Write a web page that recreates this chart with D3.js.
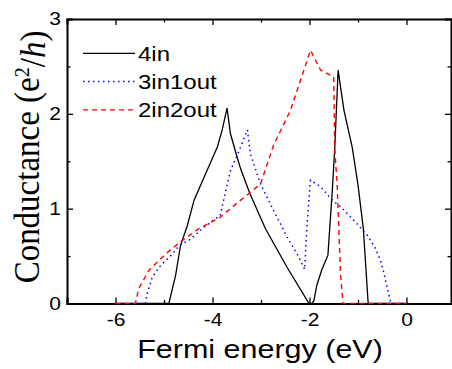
<!DOCTYPE html>
<html lang="en">
<head>
    <meta charset="UTF-8">
    <style>
        body { margin: 0; background: #fff; }
        .axis path, .axis line { stroke: #000; }
        .curve { fill: none; }
    </style>
    <title>Conductance</title>
</head>
<body>
<div id="chart"></div>
<script src="https://cdn.jsdelivr.net/npm/d3@7"></script>
<script>
    var width = 452,
        height = 369,
        plotLeft = 67, plotTop = 19, plotRight = 455, plotBottom = 303.5;

    // 4in
    var energy4in = [-6, -4.90, -4.76, -4.66, -4.52, -4.38, -4.14, -3.90, -3.80, -3.70, -3.63, -3.49, -3.42, -3.23, -2.91, -2.46,
        -2.01, -1.95, -1.91, -1.85, -1.75, -1.62, -1.53, -1.48, -1.41, -1.29, -1.12, -1.00, -0.89, -0.79, 0];
    var cond4in = [0, 0, 0.30, 0.61, 0.82, 1.09, 1.37, 1.65, 1.83, 2.06, 1.79, 1.54, 1.42, 1.16, 0.79, 0.38,
        0, 0, 0.03, 0.19, 0.35, 0.51, 1.19, 1.63, 2.46, 2.04, 1.65, 1.25, 0.79, 0, 0];

    // 3in1out
    var energy3in1out = [-6, -5.38, -5.35, -5.24, -5.07, -4.83, -4.69, -4.45, -4.21, -3.84, -3.77, -3.63, -3.42, -3.28, -3.22,
        -3.01, -2.74, -2.46, -2.22, -2.10, -2.05, -1.98, -1.77, -1.53, -1.36, -1.26, -1.02, -0.81, -0.65, -0.54, -0.47, -0.40, -0.32, 0];
    var cond3in1out = [0, 0, 0.10, 0.28, 0.40, 0.52, 0.61, 0.68, 0.79, 0.93, 1.09, 1.40, 1.65, 1.83, 1.58,
        1.26, 0.98, 0.70, 0.49, 0.36, 0.84, 1.30, 1.23, 1.09, 1.02, 0.97, 0.84, 0.72, 0.59, 0.46, 0.33, 0.17, 0, 0];

    // 2in2out
    var energy2in2out = [-6, -5.59, -5.52, -5.31, -5.11, -4.90, -4.66, -4.28, -3.84, -3.42, -3.25, -3.01, -2.74, -2.39, -1.98,
        -1.77, -1.50, -1.48, -1.43, -1.36, -1.31, 0];
    var cond2in2out = [0, 0, 0.16, 0.35, 0.45, 0.55, 0.65, 0.79, 0.91, 1.09, 1.16, 1.26, 1.67, 2.04, 2.67,
        2.46, 2.39, 1.63, 1.26, 0.31, 0, 0];

    var seriesNames = ["4in", "3in1out", "2in2out"];
    var xTicks = [-6, -4, -2, 0];
    var yTicks = [0, 1, 2, 3];

    var styles = {
        "4in": {color: "#000", dash: null, width: 1.3},
        "3in1out": {color: "#0000ff", dash: "1.5,3.5", width: 1.5},
        "2in2out": {color: "#ff0000", dash: "5,4", width: 1.4}
    };

    var series = [
        {name: "4in", e: energy4in, g: cond4in},
        {name: "3in1out", e: energy3in1out, g: cond3in1out},
        {name: "2in2out", e: energy2in2out, g: cond2in2out}
    ];

    var svg = d3.select("#chart").append("svg")
        .attr("width", width)
        .attr("height", height);

    var x = d3.scaleLinear().domain([-7, 1]).range([plotLeft, plotRight]),
        y = d3.scaleLinear().domain([0, 3]).range([plotBottom, plotTop]);

    var stretch = "scale(1.2,1)";
    var plain = function(d) { return String(d); };

    // axes, ticks inside
    var minorXTicks = [-7, -5, -3, -1, 1];
    var minorYTicks = [0.5, 1.5, 2.5];

    var gx = svg.append("g").attr("class", "axis")
        .attr("transform", "translate(0," + plotBottom + ")")
        .call(d3.axisBottom(x).tickValues(xTicks).tickSize(-6).tickPadding(10).tickFormat(plain));
    gx.append("g").call(d3.axisBottom(x).tickValues(minorXTicks).tickSize(-3.5).tickFormat(""))
        .select(".domain").remove();

    var gxTop = svg.append("g").attr("class", "axis")
        .attr("transform", "translate(0," + plotTop + ")")
        .call(d3.axisTop(x).tickValues(xTicks).tickSize(-6).tickFormat(""));
    gxTop.append("g").call(d3.axisTop(x).tickValues(minorXTicks).tickSize(-3.5).tickFormat(""))
        .select(".domain").remove();

    var gy = svg.append("g").attr("class", "axis")
        .attr("transform", "translate(" + plotLeft + ",0)")
        .call(d3.axisLeft(y).tickValues(yTicks).tickSize(-6).tickPadding(4).tickFormat(plain));
    gy.append("g").call(d3.axisLeft(y).tickValues(minorYTicks).tickSize(-3.5).tickFormat(""))
        .select(".domain").remove();

    var gyRight = svg.append("g").attr("class", "axis")
        .attr("transform", "translate(" + (width - 1) + ",0)")
        .call(d3.axisRight(y).tickValues(yTicks).tickSize(-6).tickFormat(""));
    gyRight.append("g").call(d3.axisRight(y).tickValues(minorYTicks).tickSize(-3.5).tickFormat(""))
        .select(".domain").remove();

    svg.selectAll(".axis .domain").attr("stroke-width", 2);
    svg.selectAll(".axis .tick line").attr("stroke-width", 1.3);

    gx.selectAll(".tick text")
        .style("font-family", "Liberation Sans, Arial, sans-serif")
        .style("font-size", "17.5px")
        .attr("fill", "#000")
        .attr("transform", stretch);
    gy.selectAll(".tick text")
        .style("font-family", "Liberation Sans, Arial, sans-serif")
        .style("font-size", "17.5px")
        .attr("fill", "#000")
        .attr("x", -5)
        .attr("transform", stretch);

    // curves
    var line = d3.line()
        .x(function(d) { return x(d[0]); })
        .y(function(d) { return y(d[1]); });

    svg.append("g").selectAll("path")
        .data(series)
        .enter().append("path")
        .attr("class", "curve")
        .attr("d", function(d) { return line(d.e.map(function(v, i) { return [v, d.g[i]]; })); })
        .attr("stroke", function(d) { return styles[d.name].color; })
        .attr("stroke-width", function(d) { return styles[d.name].width; })
        .attr("stroke-dasharray", function(d) { return styles[d.name].dash; });

    // legend
    var legend = svg.append("g").selectAll("g")
        .data(seriesNames)
        .enter().append("g")
        .attr("transform", function(d, i) { return "translate(83," + (53.3 + i * 28.3) + ")"; });
    legend.append("line")
        .attr("x1", 0).attr("x2", 52)
        .attr("stroke", function(d) { return styles[d].color; })
        .attr("stroke-width", function(d) { return styles[d].width; })
        .attr("stroke-dasharray", function(d) { return styles[d].dash; });
    legend.append("text")
        .attr("transform", "translate(55,7.5) scale(1.2,1)")
        .style("font-family", "Liberation Sans, Arial, sans-serif")
        .style("font-size", "20px")
        .text(function(d) { return d; });

    // axis titles
    svg.append("text")
        .attr("transform", "translate(260,358) scale(1.22,1)")
        .attr("text-anchor", "middle")
        .style("font-family", "Liberation Sans, Arial, sans-serif")
        .style("font-size", "25px")
        .text("Fermi energy (eV)");

    var yLabel = svg.append("text")
        .attr("transform", "translate(39,157) scale(1.1,1) rotate(-90)")
        .attr("text-anchor", "middle")
        .style("font-family", "Liberation Serif, Times New Roman, serif")
        .style("font-size", "33px");
    yLabel.append("tspan").text("Conductance (e");
    yLabel.append("tspan").attr("dy", "-0.45em").style("font-size", "20px").text("2");
    yLabel.append("tspan").attr("dy", "0.45em").text("/");
    yLabel.append("tspan").style("font-style", "italic").text("h");
    yLabel.append("tspan").text(")");
</script>
</body>
</html>
